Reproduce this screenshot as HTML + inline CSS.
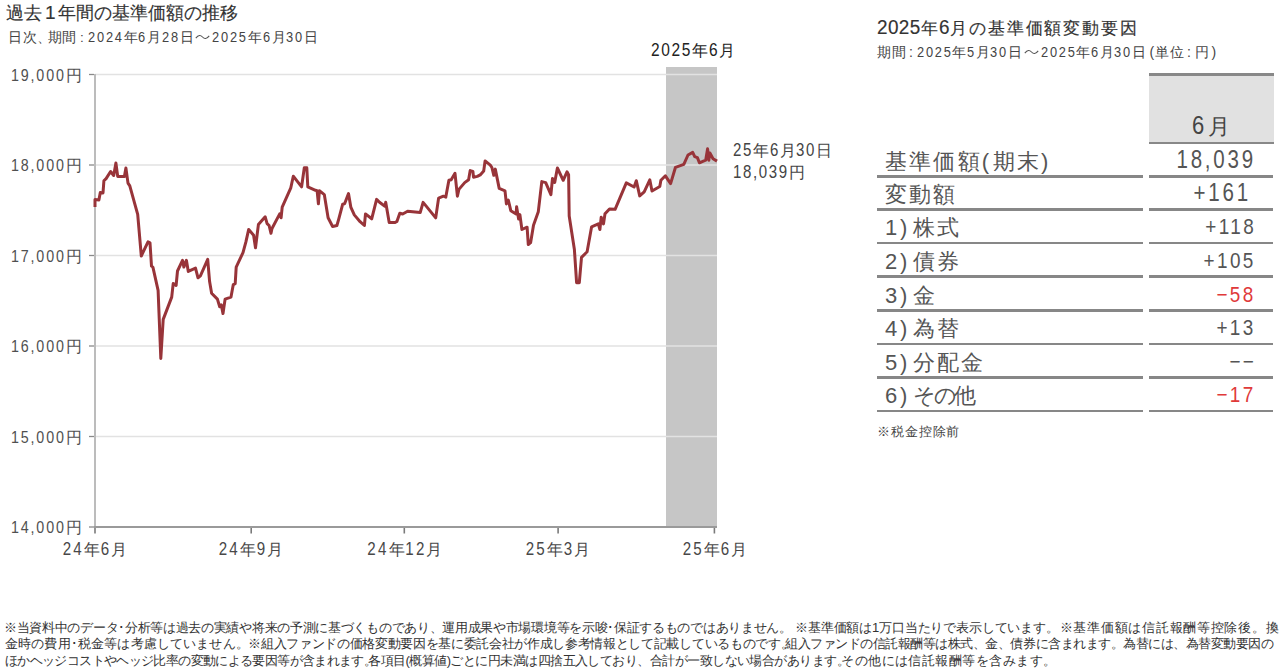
<!DOCTYPE html>
<html><head><meta charset="utf-8">
<style>
html,body{margin:0;padding:0;background:#fff;}
body{width:1280px;height:671px;position:relative;overflow:hidden;font-family:"Liberation Sans",sans-serif;color:#333;}
.t{position:absolute;white-space:nowrap;line-height:1;}
.n{display:inline-block;white-space:nowrap;}
.n>span{display:inline-block;transform-origin:0 50%;}
.row{position:absolute;left:877px;width:396px;height:34px;}
.row .l{position:absolute;left:8px;bottom:4.5px;font-size:22px;letter-spacing:2.2px;color:#555;white-space:nowrap;line-height:1;}
.row .l .d{letter-spacing:2.7px;}
.row .l .c{letter-spacing:5.6px;}
.row .l .p1{letter-spacing:3.5px;}
.row .l .p2{letter-spacing:0;}
.row .r{position:absolute;right:17px;bottom:5.5px;font-size:22px;letter-spacing:2.8px;transform:scaleX(0.86);transform-origin:right;color:#555;white-space:nowrap;line-height:1;}
.row .r.big{font-size:25px;letter-spacing:3.4px;transform:scaleX(0.82);bottom:5px;}
.row .bl{position:absolute;left:0;width:266px;bottom:-0.5px;height:2.5px;background:#878787;}
.row .br{position:absolute;left:272px;width:124px;bottom:-0.5px;height:2.5px;background:#878787;}
.cl{padding:0 4px 0 3px;letter-spacing:0;}
.tl{display:inline-block;width:18px;letter-spacing:0;}
.tl svg{vertical-align:2px;margin-left:1px;}
.t .p1{padding-left:3px;padding-right:1px;letter-spacing:0;}
.t .p2{padding-left:2px;letter-spacing:0;}
.neg{color:#e03a3a !important;}
.foot{position:absolute;font-size:13px;color:#333;white-space:nowrap;line-height:1;}
</style></head><body>
<svg style="position:absolute;left:0;top:0" width="1280" height="671" viewBox="0 0 1280 671">
  <rect x="666" y="67" width="51" height="460" fill="#c6c6c6"/>
  <g stroke="#e2e2e2" stroke-width="1.3">
    <line x1="95" y1="74.5" x2="717" y2="74.5"/>
    <line x1="95" y1="165" x2="717" y2="165"/>
    <line x1="95" y1="255.5" x2="717" y2="255.5"/>
    <line x1="95" y1="346" x2="717" y2="346"/>
    <line x1="95" y1="436.5" x2="717" y2="436.5"/>
  </g>
  <line x1="95" y1="74" x2="95" y2="528" stroke="#bcbcbc" stroke-width="2"/>
  <g stroke="#8a8a8a" stroke-width="1.3">
    <line x1="89" y1="74.5" x2="94" y2="74.5"/>
    <line x1="89" y1="165" x2="94" y2="165"/>
    <line x1="89" y1="255.5" x2="94" y2="255.5"/>
    <line x1="89" y1="346" x2="94" y2="346"/>
    <line x1="89" y1="436.5" x2="94" y2="436.5"/>
    <line x1="89" y1="527" x2="94" y2="527"/>
  </g>
  <g stroke="#7a7a7a" stroke-width="1.6">
    <line x1="95" y1="528" x2="95" y2="533.5"/>
    <line x1="251.2" y1="528" x2="251.2" y2="533.5"/>
    <line x1="404.3" y1="528" x2="404.3" y2="533.5"/>
    <line x1="558.1" y1="528" x2="558.1" y2="533.5"/>
    <line x1="714.4" y1="528" x2="714.4" y2="533.5"/>
  </g>
  <line x1="94" y1="527" x2="717" y2="527" stroke="#9a9a9a" stroke-width="2"/>
  <polyline fill="none" stroke="#983439" stroke-width="3" stroke-linejoin="round" points="95,207 95,199.6 98.9,200 100.3,192.5 103,192.9 103.9,180.8 106.1,178.6 110.6,171.5 113.7,175.5 115.9,163 117.7,176.4 124.4,176.6 125.9,167.9 128,183.1 129.8,185.8 137.7,214.4 141.3,256 148,241.9 150,242.9 151.5,266.1 152.9,267.1 158.1,290.4 160.8,358.5 163.2,319.4 171.7,297.1 173.2,283.6 176.1,285.5 177.5,271 182.5,260.3 183.9,267.1 186.4,260.3 188.3,271.4 195.5,268.1 198,277.8 200.4,275.8 207.7,259.4 209.6,281.6 211.6,293.3 217.4,299.1 219.7,306.8 221.3,304.9 223,313.6 225.1,299.1 231,297.1 233.3,284.6 235.2,283.6 236.2,267.1 243,252.6 245.9,241.9 248.7,229.4 253.6,235.2 255.5,247.8 258.4,224.6 265.2,216.8 267.1,223.6 269.1,225.5 271,233.3 272,228.5 279.7,213.9 281.1,217.8 282.2,207.1 290.8,187.8 293.3,176.2 301.6,186.8 304.3,167.8 306.8,167.8 307.8,186.8 315.5,190.3 317.1,190.7 318.4,203.8 319.4,190.7 324.3,194.6 328.1,217.8 332.6,226.5 336.9,225.5 338.8,218.8 342.7,204.2 344.6,203.8 348.5,193.6 350.8,207.1 354.3,214.9 360.1,221.7 364.4,225.5 365.5,213.9 371.7,218.8 376.6,199.4 379.5,202.3 384.9,206.2 385.7,202.3 389.2,222.6 395,222.6 396.9,221.4 399.8,213.2 402.7,214 407.6,211.3 420.2,212.6 423.1,202.4 426,205.9 435.7,217.9 438.6,198.1 443.4,196.2 445.8,197.1 448.9,180.3 451.2,179.7 455,173.3 457.4,196.2 458.9,189.4 464.7,182.6 468.6,179.7 470.2,170.6 472.9,171.4 473.5,177.2 477.3,176.4 480.2,174.9 483.7,171 485.1,160.9 490.3,165.2 491.9,167.5 493.8,175.3 495.3,169.1 499.2,188.4 505,190.8 506.4,203.9 508.3,200 510.8,210.7 516.1,214 516.6,206.8 518.6,219 519.9,214.6 521.9,229.5 527.1,227.2 528.3,244.6 530.6,242.7 533.5,225.2 538.3,211.7 541.8,181.6 545.7,182.6 550.9,194.6 552.5,178.5 554.7,182.5 557.4,168 563.2,180.3 567,171.8 568.6,174.7 569.2,216 574.4,249.6 576.6,282.7 579.3,282.7 581.5,257.4 587.1,251.8 591.6,226.8 598.3,223.9 599.9,229.5 601.2,217.2 603.5,223.9 605,213.8 609.5,208.9 615.1,209.3 626.3,182.9 634.1,187 636.3,180.7 639.7,195.9 644.2,191.9 649.8,179.8 652,191 659.8,186.5 660.9,180.3 665.4,175.8 670.6,183.6 675.5,167.3 683.8,164.4 688,155 692.7,152.4 694.7,156.6 697.4,157.6 699.4,162.8 705.7,160.2 707.6,148.8 708.8,160.2 709.9,152.9 713,158.7 717,161.1"/>
</svg>
<div class="t" style="left:6px;top:3px;font-size:18px;letter-spacing:0.05px;color:#333;-webkit-text-stroke:0.15px #333;">過去<span style="padding:0 2px 0 3px;font-size:19px">1</span>年間の基準価額の推移</div>
<div class="t" style="left:8px;top:29px;font-size:13.5px;letter-spacing:0.62px;color:#444;">日次<span style="letter-spacing:-3.5px">、</span>期間<span class="cl">:</span><span class="n" style="width:35.78px"><span style="font-size:15.3px;transform:scaleX(0.84);letter-spacing:2.143px">2024</span></span>年<span class="n" style="width:8.95px"><span style="font-size:15.3px;transform:scaleX(0.84);letter-spacing:2.143px">6</span></span>月<span class="n" style="width:17.89px"><span style="font-size:15.3px;transform:scaleX(0.84);letter-spacing:2.143px">28</span></span>日<span class="tl"><svg width="15" height="6" viewBox="0 0 15 6"><path d="M0.8 4.2 C3.5 0.8 5.5 0.8 7.5 3 S11.5 5.2 14.2 1.8" fill="none" stroke="#555" stroke-width="1.1"/></svg></span><span class="n" style="width:35.78px"><span style="font-size:15.3px;transform:scaleX(0.84);letter-spacing:2.143px">2025</span></span>年<span class="n" style="width:8.95px"><span style="font-size:15.3px;transform:scaleX(0.84);letter-spacing:2.143px">6</span></span>月<span class="n" style="width:17.89px"><span style="font-size:15.3px;transform:scaleX(0.84);letter-spacing:2.143px">30</span></span>日</div>
<div class="t" style="right:1197.5px;top:66.5px;font-size:16px;letter-spacing:0.6px;color:#505050;"><span class="n" style="width:54.73px"><span style="font-size:17.4px;transform:scaleX(0.82);letter-spacing:2.256px">19,000</span></span>円</div>
<div class="t" style="right:1197.5px;top:157px;font-size:16px;letter-spacing:0.6px;color:#505050;"><span class="n" style="width:54.73px"><span style="font-size:17.4px;transform:scaleX(0.82);letter-spacing:2.256px">18,000</span></span>円</div>
<div class="t" style="right:1197.5px;top:247.5px;font-size:16px;letter-spacing:0.6px;color:#505050;"><span class="n" style="width:54.73px"><span style="font-size:17.4px;transform:scaleX(0.82);letter-spacing:2.256px">17,000</span></span>円</div>
<div class="t" style="right:1197.5px;top:338px;font-size:16px;letter-spacing:0.6px;color:#505050;"><span class="n" style="width:54.73px"><span style="font-size:17.4px;transform:scaleX(0.82);letter-spacing:2.256px">16,000</span></span>円</div>
<div class="t" style="right:1197.5px;top:428.5px;font-size:16px;letter-spacing:0.6px;color:#505050;"><span class="n" style="width:54.73px"><span style="font-size:17.4px;transform:scaleX(0.82);letter-spacing:2.256px">15,000</span></span>円</div>
<div class="t" style="right:1197.5px;top:519px;font-size:16px;letter-spacing:0.6px;color:#505050;"><span class="n" style="width:54.73px"><span style="font-size:17.4px;transform:scaleX(0.82);letter-spacing:2.256px">14,000</span></span>円</div>
<div class="t" style="left:94.8px;top:540px;font-size:16px;letter-spacing:0.3px;color:#484848;transform:translateX(-50%);"><span class="n" style="width:21.41px"><span style="font-size:18px;transform:scaleX(0.84);letter-spacing:2.738px">24</span></span>年<span class="n" style="width:10.71px"><span style="font-size:18px;transform:scaleX(0.84);letter-spacing:2.738px">6</span></span>月</div>
<div class="t" style="left:250.9px;top:540px;font-size:16px;letter-spacing:0.3px;color:#484848;transform:translateX(-50%);"><span class="n" style="width:21.41px"><span style="font-size:18px;transform:scaleX(0.84);letter-spacing:2.738px">24</span></span>年<span class="n" style="width:10.71px"><span style="font-size:18px;transform:scaleX(0.84);letter-spacing:2.738px">9</span></span>月</div>
<div class="t" style="left:405px;top:540px;font-size:16px;letter-spacing:0.3px;color:#484848;transform:translateX(-50%);"><span class="n" style="width:21.41px"><span style="font-size:18px;transform:scaleX(0.84);letter-spacing:2.738px">24</span></span>年<span class="n" style="width:21.41px"><span style="font-size:18px;transform:scaleX(0.84);letter-spacing:2.738px">12</span></span>月</div>
<div class="t" style="left:558.2px;top:540px;font-size:16px;letter-spacing:0.3px;color:#484848;transform:translateX(-50%);"><span class="n" style="width:21.41px"><span style="font-size:18px;transform:scaleX(0.84);letter-spacing:2.738px">25</span></span>年<span class="n" style="width:10.71px"><span style="font-size:18px;transform:scaleX(0.84);letter-spacing:2.738px">3</span></span>月</div>
<div class="t" style="left:714.8px;top:540px;font-size:16px;letter-spacing:0.3px;color:#484848;transform:translateX(-50%);"><span class="n" style="width:21.41px"><span style="font-size:18px;transform:scaleX(0.84);letter-spacing:2.738px">25</span></span>年<span class="n" style="width:10.71px"><span style="font-size:18px;transform:scaleX(0.84);letter-spacing:2.738px">6</span></span>月</div>
<div class="t" style="left:651px;top:41.5px;font-size:16px;letter-spacing:0.8px;color:#222;"><span class="n" style="width:40.85px"><span style="font-size:17.6px;transform:scaleX(0.88);letter-spacing:1.818px">2025</span></span>年<span class="n" style="width:10.21px"><span style="font-size:17.6px;transform:scaleX(0.88);letter-spacing:1.818px">6</span></span>月</div>
<div class="t" style="left:733px;top:142px;font-size:16px;letter-spacing:0.6px;color:#444;"><span class="n" style="width:20.01px"><span style="font-size:17.8px;transform:scaleX(0.846);letter-spacing:1.927px">25</span></span>年<span class="n" style="width:10.00px"><span style="font-size:17.8px;transform:scaleX(0.846);letter-spacing:1.927px">6</span></span>月<span class="n" style="width:20.01px"><span style="font-size:17.8px;transform:scaleX(0.846);letter-spacing:1.927px">30</span></span>日</div>
<div class="t" style="left:733px;top:164px;font-size:16px;letter-spacing:0.6px;color:#444;"><span class="n" style="width:55.83px"><span style="font-size:17.8px;transform:scaleX(0.846);letter-spacing:1.927px">18,039</span></span>円</div>
<div class="t" style="left:877px;top:18px;font-size:17px;letter-spacing:1.8px;color:#333;-webkit-text-stroke:0.15px #333;"><span class="n" style="width:43.67px"><span style="font-size:19.5px;transform:scaleX(0.97);letter-spacing:0.412px">2025</span></span>年<span class="n" style="width:10.92px"><span style="font-size:19.5px;transform:scaleX(0.97);letter-spacing:0.412px">6</span></span>月の基準価額変動要因</div>
<div class="t" style="left:877px;top:44px;font-size:14px;letter-spacing:0.5px;color:#444;">期間<span class="cl">:</span><span class="n" style="width:35.58px"><span style="font-size:15.3px;transform:scaleX(0.84);letter-spacing:2.083px">2025</span></span>年<span class="n" style="width:8.90px"><span style="font-size:15.3px;transform:scaleX(0.84);letter-spacing:2.083px">5</span></span>月<span class="n" style="width:17.79px"><span style="font-size:15.3px;transform:scaleX(0.84);letter-spacing:2.083px">30</span></span>日<span class="tl"><svg width="15" height="6" viewBox="0 0 15 6"><path d="M0.8 4.2 C3.5 0.8 5.5 0.8 7.5 3 S11.5 5.2 14.2 1.8" fill="none" stroke="#555" stroke-width="1.1"/></svg></span><span class="n" style="width:35.58px"><span style="font-size:15.3px;transform:scaleX(0.84);letter-spacing:2.083px">2025</span></span>年<span class="n" style="width:8.90px"><span style="font-size:15.3px;transform:scaleX(0.84);letter-spacing:2.083px">6</span></span>月<span class="n" style="width:17.79px"><span style="font-size:15.3px;transform:scaleX(0.84);letter-spacing:2.083px">30</span></span>日<span class="p1">(</span>単位<span class="cl">:</span>円<span class="p2">)</span></div>
<div style="position:absolute;left:1149px;top:73px;width:125px;height:71px;background:#e1e1e1;border-top:3px solid #888;border-bottom:2.5px solid #888;box-sizing:border-box;"></div>
<div class="t" style="left:1192px;top:113px;color:#444;"><span class="num" style="display:inline-block;font-size:25px;transform:scaleX(0.88);transform-origin:left;width:12.5px;">6</span><span style="font-size:22px;padding-left:3px;">月</span></div>
<div class="row" style="top:143px;"><span class="l">基準価額<span class='p1'>(</span>期末<span class='p2'>)</span></span><span class="r big">18,039</span><i class="bl"></i><i class="br"></i></div>
<div class="row" style="top:176px;"><span class="l">変動額</span><span class="r big" style="right:22px">+161</span><i class="bl"></i><i class="br"></i></div>
<div class="row" style="top:209.5px;"><span class="l"><span class='d'>1</span><span class='c'>)</span>株式</span><span class="r">+118</span><i class="bl"></i><i class="br"></i></div>
<div class="row" style="top:243px;"><span class="l"><span class='d'>2</span><span class='c'>)</span>債券</span><span class="r">+105</span><i class="bl"></i><i class="br"></i></div>
<div class="row" style="top:277px;"><span class="l"><span class='d'>3</span><span class='c'>)</span>金</span><span class="r neg">−58</span><i class="bl"></i><i class="br"></i></div>
<div class="row" style="top:310.5px;"><span class="l"><span class='d'>4</span><span class='c'>)</span>為替</span><span class="r">+13</span><i class="bl"></i><i class="br"></i></div>
<div class="row" style="top:344px;"><span class="l"><span class='d'>5</span><span class='c'>)</span>分配金</span><span class="r">−−</span><i class="bl"></i><i class="br"></i></div>
<div class="row" style="top:377.5px;"><span class="l"><span class='d'>6</span><span class='c'>)</span><span style='letter-spacing:-2.2px'>その</span>他</span><span class="r neg">−17</span><i class="bl"></i><i class="br"></i></div>
<div class="t" style="left:877px;top:425px;font-size:13px;letter-spacing:0.9px;color:#444;">※税金控除前</div>
<div class="foot" style="left:4.0px;top:621px;letter-spacing:-0.306px;">※当資料中のデータ･分析等は過去の実績や将来の予測に基づくものであり、運用成果や市場環境等を示唆･保証するものではありません。</div>
<div class="foot" style="left:795.2px;top:621px;letter-spacing:-0.18px;">※基準価額は1万口当たりで表示しています。</div>
<div class="foot" style="left:1059.6px;top:621px;letter-spacing:0.74px;">※基準価額は信託報酬等控除後。換</div>
<div class="foot" style="left:5.0px;top:637px;letter-spacing:0.156px;">金時の費用･税金等は考慮していません。</div>
<div class="foot" style="left:248.2px;top:637px;letter-spacing:-0.324px;">※組入ファンドの価格変動要因を基に委託会社が作成し参考情報として記載しているものです。</div>
<div class="foot" style="left:785.0px;top:637px;letter-spacing:-0.474px;">組入ファンドの信託報酬等は株式、金、債券に含まれます。為替には、為替変動要因の</div>
<div class="foot" style="left:5.0px;top:653.5px;letter-spacing:-0.628px;">ほかヘッジコストやヘッジ比率の変動による要因等が含まれます。</div>
<div class="foot" style="left:368.1px;top:653.5px;letter-spacing:-0.541px;">各項目(概算値)ごとに円未満は四捨五入しており、合計が一致しない場合があります。</div>
<div class="foot" style="left:841.2px;top:653.5px;letter-spacing:0.453px;">その他には信託報酬等を含みます。</div>
</body></html>
